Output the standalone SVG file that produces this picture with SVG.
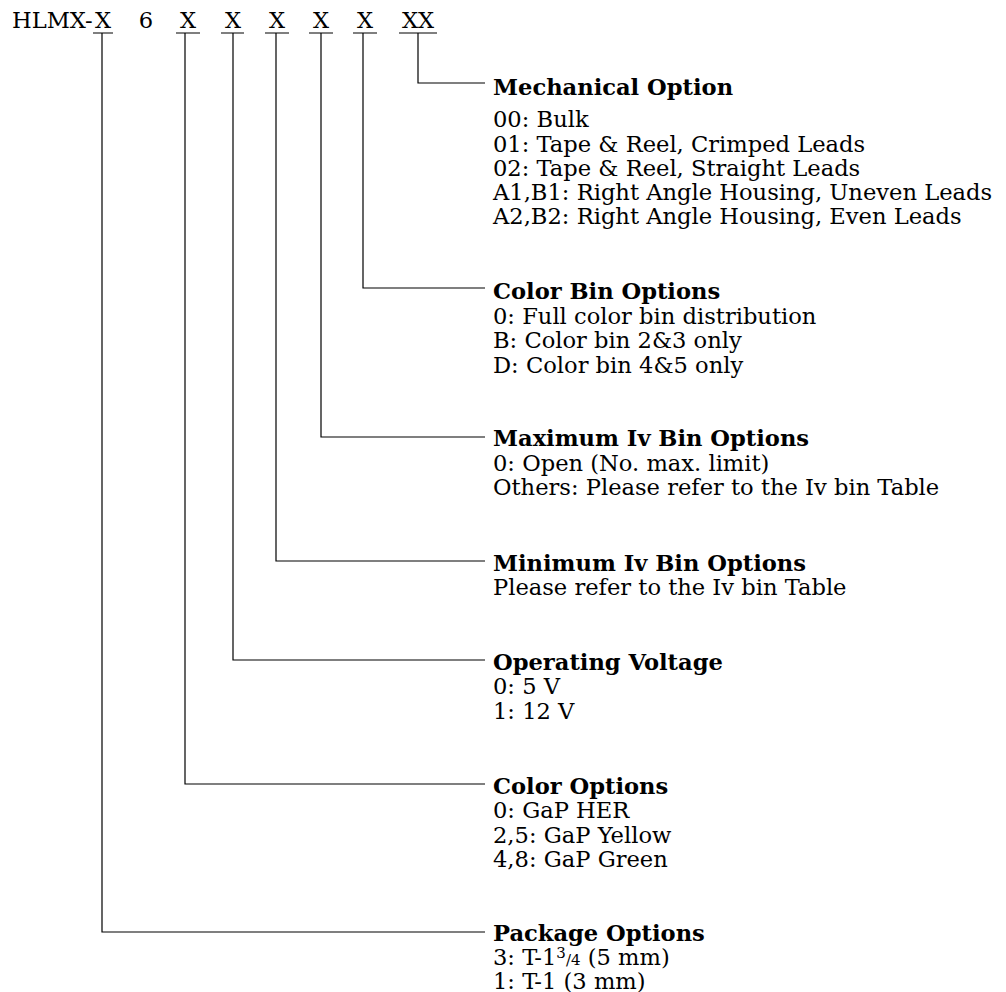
<svg xmlns="http://www.w3.org/2000/svg" width="1006" height="992" viewBox="0 0 1006 992">
<style>
text{font-family:"DejaVu Serif","Liberation Serif",serif;font-size:22.6px;fill:#000}
.t{font-weight:bold}
.top{font-size:22.6px}
.c{text-anchor:middle}
.sup{font-size:15px}
path{stroke:#000;stroke-width:1.2;fill:none}
</style>
<rect width="1006" height="992" fill="#fff"/>
<g id="partnumber">
<text class="top" x="12" y="28">HLMX-</text>
<text class="top c" x="103" y="28">X</text>
<text class="top c" x="146" y="28">6</text>
<text class="top c" x="188" y="28">X</text>
<text class="top c" x="233" y="28">X</text>
<text class="top c" x="277" y="28">X</text>
<text class="top c" x="321" y="28">X</text>
<text class="top c" x="365" y="28">X</text>
<text class="top c" x="418" y="28">XX</text>
</g>
<g id="connectors">
<path d="M93 33H113M176 33H200M221 33H244M265 33H289M309 33H333M353 33H377M399 33H437"/>
<path d="M418 33V83H485"/>
<path d="M363 33V288H485"/>
<path d="M321 33V437H485"/>
<path d="M276 33V561H485"/>
<path d="M233 33V660H485"/>
<path d="M185 33V784H485"/>
<path d="M102 33V932H485"/>
</g>
<g id="mechanical">
<text class="t" x="493" y="95">Mechanical Option</text>
<text x="493" y="127">00: Bulk</text>
<text x="493" y="152">01: Tape &amp; Reel, Crimped Leads</text>
<text x="493" y="176">02: Tape &amp; Reel, Straight Leads</text>
<text x="493" y="200">A1,B1: Right Angle Housing, Uneven Leads</text>
<text x="493" y="224">A2,B2: Right Angle Housing, Even Leads</text>
</g>
<g id="colorbin">
<text class="t" x="493" y="299">Color Bin Options</text>
<text x="493" y="324">0: Full color bin distribution</text>
<text x="493" y="348">B: Color bin 2&amp;3 only</text>
<text x="493" y="373">D: Color bin 4&amp;5 only</text>
</g>
<g id="maxiv">
<text class="t" x="493" y="446">Maximum Iv Bin Options</text>
<text x="493" y="471">0: Open (No. max. limit)</text>
<text x="493" y="495">Others: Please refer to the Iv bin Table</text>
</g>
<g id="miniv">
<text class="t" x="493" y="571">Minimum Iv Bin Options</text>
<text x="493" y="595">Please refer to the Iv bin Table</text>
</g>
<g id="voltage">
<text class="t" x="493" y="670">Operating Voltage</text>
<text x="493" y="694">0: 5 V</text>
<text x="493" y="719">1: 12 V</text>
</g>
<g id="color">
<text class="t" x="493" y="794">Color Options</text>
<text x="493" y="818">0: GaP HER</text>
<text x="493" y="843">2,5: GaP Yellow</text>
<text x="493" y="867">4,8: GaP Green</text>
</g>
<g id="package">
<text class="t" x="493" y="941">Package Options</text>
<text x="493" y="965">3: T-1<tspan class="sup" dy="-7">3</tspan><tspan class="sup" dy="7">/4</tspan> (5 mm)</text>
<text x="493" y="989">1: T-1 (3 mm)</text>
</g>
</svg>
